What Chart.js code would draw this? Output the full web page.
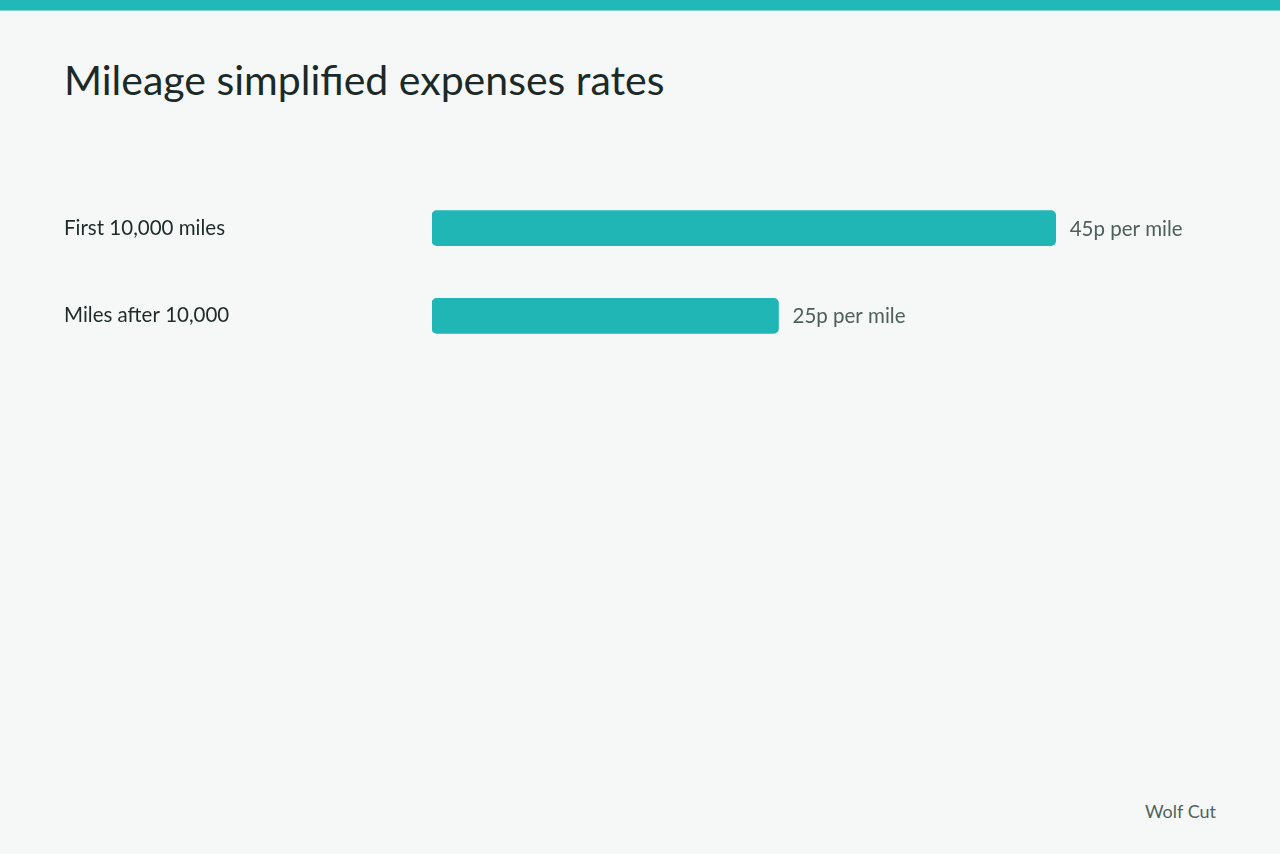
<!DOCTYPE html>
<html>
<head>
<meta charset="utf-8">
<title>Mileage simplified expenses rates</title>
<script src="https://cdn.jsdelivr.net/npm/chart.js@4.4.1/dist/chart.umd.min.js"></script>
<style>
  html, body { margin: 0; padding: 0; }
  body {
    width: 1280px; height: 854px; overflow: hidden; position: relative;
    background: #f5f8f7; font-family: Lato, "Open Sans", sans-serif;
  }
  .topbar { position: absolute; left: 0; top: 0; width: 1280px; height: 10px; background: #22b8b8; border-bottom: 1px solid #7fd3d3; }
  h1 { position: absolute; left: 64px; top: 55px; margin: 0; font-weight: 400; font-size: 41px; color: #1b2927; }
  .chart-box { position: absolute; left: 64px; top: 172px; width: 1212px; height: 200px; }
  .source { position: absolute; right: 64px; top: 800px; font-size: 18px; color: #50625e; }
</style>
</head>
<body>
<div class="topbar"></div>
<h1>Mileage simplified expenses rates</h1>
<div class="chart-box"><canvas id="rateChart"></canvas></div>
<div class="source">Wolf Cut</div>

<script>
// ---- data ----
const categories = ['First 10,000 miles', 'Miles after 10,000'];
const ratePence  = [45, 25];
const rateLabels = ['45p per mile', '25p per mile'];

const TEAL = '#20b6b6';

// value label drawn just past the end of each bar
const barLabels = {
  id: 'barLabels',
  afterDatasetsDraw(chart) {
    const { ctx } = chart;
    const meta = chart.getDatasetMeta(0);
    ctx.save();
    ctx.font = '20.5px Lato, "Open Sans", sans-serif';
    ctx.fillStyle = '#4d5f5b';
    ctx.textAlign = 'left';
    ctx.textBaseline = 'middle';
    meta.data.forEach((bar, i) => {
      ctx.fillText(rateLabels[i], bar.x + 14, bar.y + 1);
    });
    ctx.restore();
  }
};

new Chart(document.getElementById('rateChart'), {
  type: 'bar',
  data: {
    labels: categories,
    datasets: [{
      data: ratePence,
      backgroundColor: TEAL,
      borderRadius: 5,
      borderSkipped: false,
      barThickness: 35,
    }],
  },
  options: {
    indexAxis: 'y',
    responsive: true,
    maintainAspectRatio: false,
    animation: false,
    layout: { padding: { right: 151 } },
    plugins: {
      legend: { display: false },
      tooltip: { enabled: false },
    },
    scales: {
      x: { display: false, min: 0, max: 50 },
      y: {
        grid: { display: false, drawTicks: false },
        border: { display: false },
        ticks: {
          crossAlign: 'far',
          padding: 0,
          color: '#1e2b29',
          font: { family: 'Lato', size: 20.5 },
        },
        afterFit(scale) { scale.width = 368; },
      },
    },
  },
  plugins: [barLabels],
});
</script>
</body>
</html>
